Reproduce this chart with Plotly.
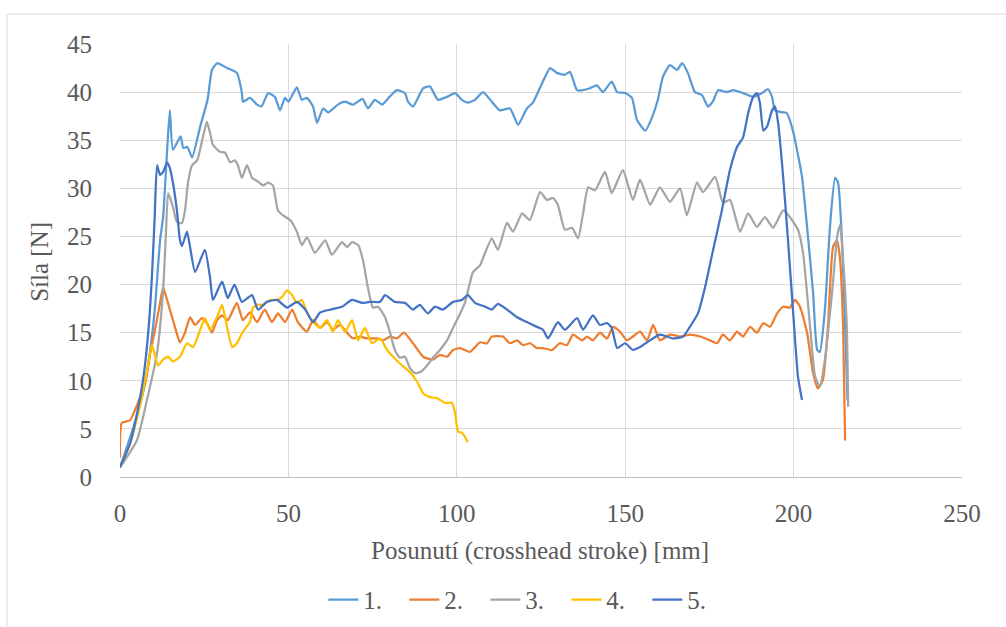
import plotly.graph_objects as go

# ---- data ----
series_names = ["1.", "2.", "3.", "4.", "5."]
series_colors = ["#5B9BD5", "#ED7D31", "#A5A5A5", "#FFC000", "#4472C4"]

x1 = [0, 4, 7, 9, 10.4, 11.9, 12.8, 14, 14.8, 15.7, 18, 18.8, 20, 21.4, 23.8, 26, 27.3, 28.8, 30.3, 31.8,
      34.7, 36.2, 36.5, 38.6, 40.7, 42, 44, 46, 47.5, 49, 50, 52.5, 54, 55.5, 57.3, 58.5, 60.3, 61.8, 64.7, 66.8,
      69.2, 72, 73.6, 75.7, 77.8, 80, 82.2, 84.6, 85.5, 87, 90, 92, 94.4, 97, 99.5, 101.5, 103.3, 105.4, 107.8, 110.4,
      112.8, 115.8, 118.2, 120.8, 122.6, 125.3, 127.7, 129.7, 132, 133.6, 135.7, 137.5, 139.5, 141.6, 143.4, 146, 147.6, 150, 152, 153.5,
      156, 158, 159.7, 161.2, 163.3, 165.4, 166.9, 168.6, 170.7, 172.8, 174.6, 176, 177.6, 180.2, 182, 185, 188, 190.6, 192.4, 193.6,
      194.5, 196.9, 198, 199.8, 201, 202.5, 204, 205.8, 207, 207.8, 209.3, 210.8, 212.3, 213.2, 214.4, 215.3, 216]
y1 = [1, 5.2, 9, 13.2, 17.7, 24.6, 27, 34, 38.1, 34, 35.4, 34.2, 34.3, 33.2, 36.4, 39.2, 42.3, 43, 42.8, 42.5,
      42, 39.9, 39, 39.4, 38.7, 38.5, 39.9, 39.5, 38.1, 39.4, 39, 40.5, 39.2, 39.4, 38.5, 36.8, 38.3, 37.9, 38.7, 39,
      38.7, 39.3, 38.3, 39.2, 38.7, 39.5, 40.2, 39.9, 39, 38.5, 40.4, 40.6, 39.2, 39.5, 39.9, 39.2, 38.9, 39.2, 40, 39,
      38.1, 38.3, 36.6, 38.3, 38.9, 40.9, 42.5, 42, 41.8, 42.1, 40.2, 40.2, 40.4, 40.7, 40, 41.1, 40, 39.9, 39.4, 37.1,
      36, 37.4, 39.2, 41.6, 42.8, 42.3, 43, 42, 40, 39.7, 38.5, 39, 40.2, 40, 40.2, 39.9, 39.5, 39.9, 40.3, 39.5,
      38.1, 37.9, 37.8, 36, 34, 31.2, 26, 19.1, 13.2, 13, 17.4, 26, 31.1, 30.6, 24.3, 15.6, 8]

x2 = [0, 0.5, 3, 4, 6, 7.5, 9, 10.4, 11.9, 12.8, 14, 14.8, 16.3, 17.8, 19.3, 20.8, 22.3, 24.3, 25.8, 27.3,
      28.8, 30.3, 32, 34.7, 36.5, 38.6, 40.7, 43, 45.1, 46.9, 49, 51.1, 52.8, 55.5, 57.3, 59.4, 61.5, 63.2, 65.3, 67.4,
      69.2, 71.3, 73.3, 76.3, 78.1, 80.2, 82.2, 84.3, 87, 90, 92.9, 95, 97.1, 98.9, 101, 103.9, 106.9, 109, 110.4, 113.7,
      115.8, 117.9, 119.7, 121.7, 123.8, 125.6, 128.3, 130.6, 132.7, 134.5, 137.2, 138.7, 140.4, 142.5, 144.6, 146.4, 148.5, 150.5, 152.3, 154.4,
      156.5, 158.3, 160.3, 163.3, 166.3, 169.2, 172.2, 175.2, 177.3, 179, 181.1, 183.2, 185, 187.1, 189.1, 191, 193, 195.1, 196.9, 198.9,
      200.4, 201.9, 204, 205.8, 207.2, 208.7, 210.2, 211.7, 212.9, 213.8, 214.7, 215.3]
y2 = [2, 5.6, 5.9, 6.6, 8.3, 9.8, 12.9, 15.3, 18.1, 19.7, 18.4, 17.4, 15.6, 14, 15, 16.6, 15.8, 16.5, 16, 15,
      16.3, 16.8, 16.3, 18.1, 16.3, 17.1, 16.1, 17.4, 16.1, 17, 16.1, 17.4, 16.1, 15.1, 16.3, 15.5, 16.1, 15.3, 15.8, 15,
      14.4, 14.6, 14.4, 14.4, 14.2, 14.6, 14.4, 15, 13.9, 12.5, 12.2, 12.7, 12.5, 13.2, 13.4, 13, 14, 13.9, 14.6, 14.6,
      13.9, 14.2, 13.7, 13.9, 13.4, 13.4, 13.2, 13.9, 13.7, 14.8, 14.2, 14.6, 14.2, 15, 14.4, 15.6, 15.1, 14.2, 14.6, 15.1,
      14.2, 15.8, 14.2, 14.8, 14.6, 14.8, 14.6, 14.2, 13.9, 14.8, 14.2, 15.1, 14.6, 15.6, 15, 16, 15.6, 17, 17.7, 17.6,
      18.4, 17.7, 15, 10.8, 9.2, 10.1, 15.6, 23.9, 24.6, 22.6, 15.6, 3.8]

x3 = [0, 5, 8, 11, 12.8, 13.6, 14.3, 15.7, 16.9, 18.4, 19.3, 20.2, 21.4, 22.9, 24.6, 25.8, 26.7, 27.6, 29.7, 31.2,
      32.7, 34.1, 35, 36.2, 37.7, 39.2, 41, 42.5, 44, 45.4, 46.9, 48.4, 50.5, 52.5, 54, 55.5, 57.9, 60.9, 62.9, 65.9,
      67.4, 68.9, 70.7, 72.1, 73.6, 75.1, 76.6, 78.7, 80.2, 81.6, 83.1, 84.6, 86.1, 87.6, 89.1, 91.2, 92.9, 95, 97.1, 98.9,
      101, 102.4, 103.9, 104.8, 106.9, 108.4, 110.4, 112.2, 114.9, 116.7, 119.4, 121.7, 124.7, 126.8, 128.6, 130, 132.1, 134.2, 136, 137.5,
      139, 141, 144, 146, 149.3, 152.3, 154.4, 157.4, 160.3, 163.3, 166.3, 168.3, 171.3, 173.1, 176.7, 179, 181.1, 184.1, 186.5, 189.1,
      191.5, 193.9, 196.9, 198.5, 201.3, 202.8, 204.9, 206.4, 207.8, 209.3, 211.4, 212.9, 213.8, 214.7, 215.8, 216.2]
y3 = [1, 3.8, 8, 12.9, 19.4, 25, 29.5, 28.1, 26.5, 26.4, 27.7, 30.6, 32.4, 32.9, 35.3, 36.9, 35.8, 34.5, 33.8, 33.7,
      32.7, 32.9, 32.4, 31.1, 32.4, 31.1, 30.7, 30.3, 30.6, 30.3, 27.7, 27.2, 26.7, 25.5, 24.1, 24.9, 23.3, 24.6, 23.1, 24.4,
      23.9, 24.4, 24.1, 22.6, 19.7, 17.6, 17.7, 16.6, 15, 13.2, 12.4, 12.5, 11.3, 10.8, 10.9, 11.6, 12.4, 13.2, 14.2, 15.5,
      17, 18.1, 20.2, 21.3, 22, 23.3, 24.8, 23.6, 26.4, 25.5, 27.4, 26.7, 29.6, 28.8, 29, 28.3, 25.7, 25.9, 24.8, 27.4,
      30.1, 29.8, 31.7, 29.5, 31.9, 28.8, 30.9, 28.3, 30.1, 28.6, 30, 27.2, 30.6, 29.6, 31.2, 28.5, 28.8, 25.5, 27.4, 26,
      27, 25.9, 27.7, 27.2, 25.7, 23.3, 15.6, 10.4, 9.4, 12.2, 19.1, 24.9, 26.2, 22.6, 15.6, 7.3]

x4 = [0, 3, 6, 8, 9.5, 11.3, 12.8, 14.3, 15.7, 17.8, 19.9, 21.7, 23.8, 25.2, 26.7, 28.8, 30.3, 31.2, 33.3, 34.7,
      36.5, 38.6, 39.5, 41, 42.5, 44.5, 46.6, 48.1, 49.6, 51.1, 52.5, 54, 55.5, 57.3, 59.4, 61.5, 63.2, 64.7, 66.8, 68.9,
      70.7, 72.7, 74.8, 77.2, 79.3, 81.1, 83.1, 86.1, 88.2, 90, 92, 94.1, 96.5, 98.6, 99.5, 100.4, 101.5, 102.4, 103.3]
y4 = [1, 3.5, 7.5, 11, 13.7, 11.6, 12.2, 12.5, 12, 12.5, 13.9, 13.5, 15.3, 16.5, 15.3, 16.6, 17.9, 16.6, 13.5, 13.9,
      15.1, 16.1, 17.6, 17.9, 17.9, 18.4, 18.4, 18.7, 19.4, 18.9, 18.1, 18.4, 17.1, 16.1, 15.5, 16.3, 15.1, 16.3, 15.1, 16.3,
      14.2, 15.5, 13.9, 14.4, 13.2, 12.5, 11.8, 10.9, 9.9, 8.7, 8.3, 8.2, 7.7, 7.7, 6.6, 4.7, 4.6, 4.2, 3.6]

x5 = [0, 3, 5, 7, 8.5, 9.5, 10.3, 11, 11.9, 12.8, 14, 14.8, 15.7, 16.9, 17.8, 18.4, 19.9, 20.8, 22.3, 25.2,
      26.7, 27.6, 30.3, 32, 34, 36.2, 39.2, 41, 43.6, 46.6, 49.6, 52.5, 55, 57.3, 59.4, 62.4, 65.9, 68.9, 71.9, 74.2,
      77.2, 78.7, 81.6, 84.6, 87, 89, 91.4, 93.5, 95.9, 98.9, 101.5, 103.3, 105.4, 108.4, 110.4, 112.2, 114.9, 117.9, 120.8, 123.8,
      125.6, 127.1, 130, 132.1, 135.7, 137.5, 140.4, 142.5, 144.6, 146, 147.6, 150, 152.3, 154.4, 156.5, 160.3, 164.2, 167.2, 169.2, 171.6,
      173.7, 176.1, 178.7, 181.1, 183.2, 185, 186.5, 188, 189.1, 190, 191, 192.1, 193.6, 194.5, 195.4, 196.9, 198.4, 199.8, 201.3, 202.5]
y5 = [1, 3.5, 6.5, 10.5, 15.5, 21, 27, 32.4, 31.4, 31.7, 32.7, 32.1, 30.6, 27.7, 24.6, 24, 25.5, 23.9, 21.3, 23.6,
      20.8, 18.4, 20.3, 18.6, 20, 18.2, 18.9, 17.4, 18.2, 18.4, 17.6, 18.2, 17.4, 16.1, 17.1, 17.4, 17.7, 18.4, 18.1, 18.2,
      18.2, 18.9, 18.2, 18.1, 17.4, 17.9, 17, 17.7, 17.4, 18.2, 18.4, 18.9, 18.1, 17.7, 17.4, 18, 17.4, 16.6, 16.1, 15.6,
      15.3, 14.4, 16.1, 15.3, 16.5, 15.3, 16.8, 15.8, 16, 15.5, 13.4, 13.9, 13.2, 13.5, 14, 14.8, 14.4, 14.6, 15.6, 17,
      19.7, 23.6, 27.7, 31.9, 34.3, 35.3, 37.8, 39.5, 39.9, 38.9, 36, 36.4, 38.1, 38.5, 36.8, 31.2, 24.3, 17.4, 10.4, 8]

x_ticks = [0, 50, 100, 150, 200, 250]
y_ticks = [0, 5, 10, 15, 20, 25, 30, 35, 40, 45]

xs = [x1, x2, x3, x4, x5]
ys = [y1, y2, y3, y4, y5]
for a, b in zip(xs, ys):
    assert len(a) == len(b), (len(a), len(b))

FONT = "Liberation Serif, Tinos, Noto Serif, DejaVu Serif, serif"
TXT = "#595959"
FS = 25

fig = go.Figure()
for name, col, xv, yv in zip(series_names, series_colors, xs, ys):
    fig.add_trace(go.Scatter(x=xv, y=yv, mode="lines", name=name,
                             line=dict(color=col, width=2.25, shape="spline", smoothing=0.5)))

fig.update_layout(
    width=1006, height=627,
    margin=dict(l=120, r=44, t=44, b=150, autoexpand=False),
    paper_bgcolor="white", plot_bgcolor="white",
    font=dict(family=FONT, color=TXT, size=FS),
    showlegend=True,
    legend=dict(orientation="h", x=0.482, xanchor="center", y=-0.284, yanchor="middle",
                font=dict(family=FONT, size=FS, color=TXT), itemwidth=30, tracegroupgap=0,
                entrywidth=36, entrywidthmode="pixels"),
    xaxis=dict(range=[0, 250], tickvals=x_ticks, showgrid=True, gridcolor="#D9D9D9", gridwidth=1,
               zeroline=False, showline=True, linecolor="#BFBFBF", linewidth=1,
               ticks="", tickfont=dict(family=FONT, size=FS, color=TXT), ticklabelstandoff=14),
    yaxis=dict(range=[0, 45], tickvals=y_ticks, showgrid=True, gridcolor="#D9D9D9", gridwidth=1,
               zeroline=False, showline=False,
               ticks="", tickfont=dict(family=FONT, size=FS, color=TXT), ticklabelstandoff=27),
    annotations=[
        dict(text="Posunutí (crosshead stroke) [mm]", x=0.499, y=-0.171, xref="paper", yref="paper",
             showarrow=False, font=dict(family=FONT, size=FS, color=TXT), xanchor="center", yanchor="middle"),
        dict(text="Síla [N]", x=-0.095, y=0.497, xref="paper", yref="paper", textangle=-90,
             showarrow=False, font=dict(family=FONT, size=FS, color=TXT), xanchor="center", yanchor="middle"),
    ],
    shapes=[
        dict(type="line", xref="paper", yref="paper", x0=-0.1342, x1=1.06, y0=1.0693, y1=1.0693,
             line=dict(color="#D9D9D9", width=1)),
        dict(type="line", xref="paper", yref="paper", x0=-0.1342, x1=-0.1342, y0=1.0693, y1=-0.36,
             line=dict(color="#D9D9D9", width=1)),
    ],
)

fig.write_html("out.html")
